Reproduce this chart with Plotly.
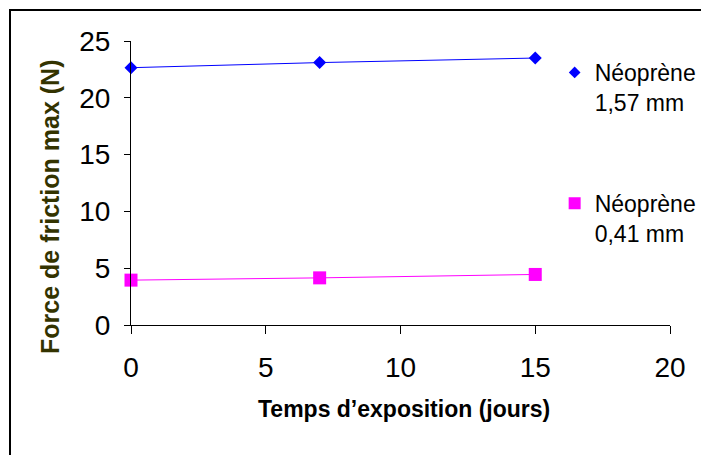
import plotly.graph_objects as go

days = [0, 7, 15]
neoprene_157 = [22.65, 23.1, 23.5]
neoprene_041 = [3.95, 4.15, 4.45]
series_names = ["Néoprène<br>1,57 mm", "Néoprène<br>0,41 mm"]
x_title = "Temps d’exposition (jours)"
y_title = "Force de friction max (N)"
x_ticks = [0, 5, 10, 15, 20]
y_ticks = [0, 5, 10, 15, 20, 25]

FONT = "Liberation Sans, Arial, sans-serif"
BLUE = "#0000FF"
PINK = "#FF00FF"

fig = go.Figure()
fig.add_trace(go.Scatter(x=days, y=neoprene_157, mode="lines+markers",
                         line=dict(color=BLUE, width=1),
                         marker=dict(symbol="diamond", size=10, color=BLUE),
                         cliponaxis=False, showlegend=False))
fig.add_trace(go.Scatter(x=days, y=neoprene_041, mode="lines+markers",
                         line=dict(color=PINK, width=1),
                         marker=dict(symbol="square", size=13, color=PINK),
                         cliponaxis=False, showlegend=False))
# legend entries (markers only)
fig.add_trace(go.Scatter(x=[None], y=[None], mode="markers", name=series_names[0],
                         marker=dict(symbol="diamond", size=9, color=BLUE),
                         legendgroup="a"))
fig.add_trace(go.Scatter(x=[None], y=[None], mode="markers", name=series_names[1],
                         marker=dict(symbol="square", size=12, color=PINK),
                         legendgroup="b"))

fig.update_layout(
    width=701, height=455,
    margin=dict(l=131, r=31, t=41, b=130, autoexpand=False),
    paper_bgcolor="white", plot_bgcolor="white",
    font=dict(family=FONT, color="black"),
    showlegend=True,
    legend=dict(x=0.786, y=0.965, xanchor="left", yanchor="top",
                font=dict(size=23, family=FONT, color="black"),
                tracegroupgap=68, valign="top", bgcolor="rgba(0,0,0,0)",
                itemwidth=30),
    xaxis=dict(range=[0, 20], tickvals=x_ticks, showgrid=False, zeroline=False,
               showline=True, linecolor="black", linewidth=1, automargin=False,
               ticks="outside", ticklen=8, tickcolor="black", tickwidth=1,
               tickfont=dict(size=28, family=FONT, color="black"),
               ticklabelstandoff=9),
    yaxis=dict(range=[0, 25], tickvals=y_ticks, showgrid=False, zeroline=False,
               showline=True, linecolor="black", linewidth=1, automargin=False,
               ticks="outside", ticklen=6, tickcolor="black", tickwidth=1,
               tickfont=dict(size=28, family=FONT, color="black"),
               ticklabelstandoff=8),
    annotations=[
        dict(text="<b>" + x_title + "</b>", xref="paper", yref="paper",
             x=0.506, y=-0.296, xanchor="center", yanchor="middle",
             showarrow=False, font=dict(size=23, family=FONT, color="black")),
        dict(text="<b>" + y_title + "</b>", xref="paper", yref="paper",
             x=(50 - 131) / 539, y=(325 - 207) / 284, xanchor="center", yanchor="middle",
             textangle=-90, showarrow=False,
             font=dict(size=25, family=FONT, color="#333300")),
    ],
    shapes=[
        dict(type="rect", xref="paper", yref="paper",
             x0=(10 - 131) / 539, x1=(720 - 131) / 539,
             y0=(325 - 480) / 284, y1=(325 - 10) / 284,
             line=dict(color="black", width=2), fillcolor="rgba(0,0,0,0)", layer="below"),
    ],
)

fig.write_html("out.html", config={"displayModeBar": False},
               post_script="document.body.style.margin='0';document.body.style.overflow='hidden';")
